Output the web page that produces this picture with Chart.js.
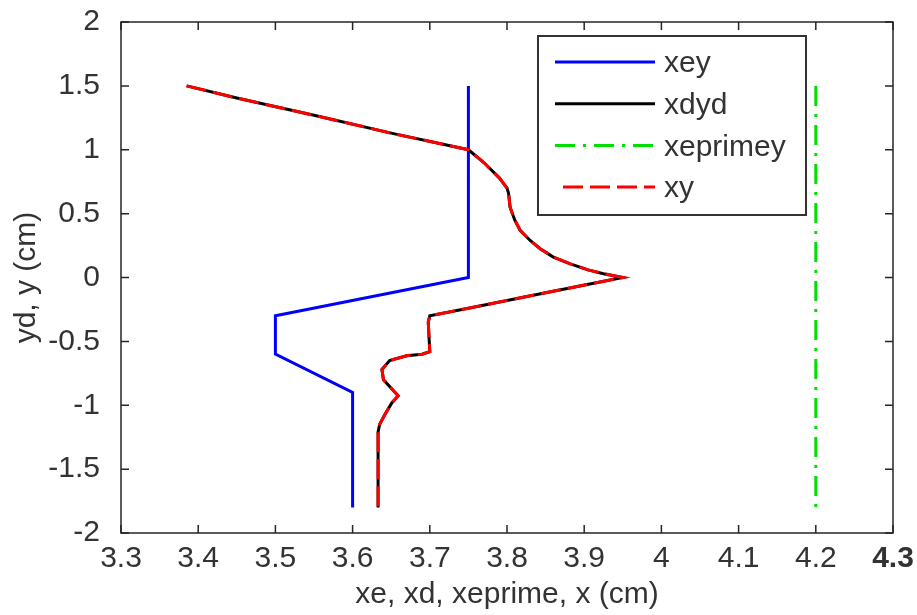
<!DOCTYPE html>
<html>
<head>
<meta charset="UTF-8">
<title>xe, xd, xeprime, x</title>
<script src="https://cdn.jsdelivr.net/npm/chart.js"></script>
<style>
    body { margin: 0; background: #fff; }
    #box { width: 917px; height: 615px; }
</style>
</head>
<body>
<div id="box"><canvas id="grafico"></canvas></div>
<script>
// valores
const xeX = [3.75, 3.75, 3.5, 3.5, 3.6, 3.6];
const xeY = [1.5, 0, -0.3, -0.6, -0.9, -1.8];

const xdX = [3.385, 3.45, 3.55, 3.65, 3.75, 3.77, 3.79, 3.8, 3.802, 3.804, 3.81, 3.817,
             3.83, 3.843, 3.86, 3.882, 3.905, 3.925, 3.95, 3.85, 3.75, 3.7, 3.698, 3.7,
             3.69, 3.67, 3.648, 3.638, 3.64, 3.659, 3.651, 3.642, 3.635, 3.633, 3.633, 3.633];
const xdY = [1.5, 1.405, 1.27, 1.13, 1.0, 0.9, 0.78, 0.7, 0.66, 0.55, 0.45, 0.37,
             0.29, 0.225, 0.16, 0.107, 0.06, 0.03, 0, -0.12, -0.24, -0.3, -0.35, -0.58,
             -0.6, -0.612, -0.65, -0.72, -0.8, -0.925, -0.98, -1.07, -1.15, -1.21, -1.5, -1.8];

const xpX = [4.2, 4.2];
const xpY = [1.5, -1.8];

const xTicks = [3.3, 3.4, 3.5, 3.6, 3.7, 3.8, 3.9, 4.0, 4.1, 4.2, 4.3];
const yTicks = [-2, -1.5, -1, -0.5, 0, 0.5, 1, 1.5, 2];

function pares(xs, ys) {
    return xs.map((x, i) => ({ x: x, y: ys[i] }));
}

const fonte = 'Liberation Sans, Arial, sans-serif';
const cinza = '#333';

// moldura com ticks para dentro (estilo matlab)
const moldura = {
    id: 'moldura',
    afterDatasetsDraw(chart) {
        const c = chart.ctx, a = chart.chartArea;
        const sx = chart.scales.x, sy = chart.scales.y;
        c.save();
        c.strokeStyle = '#262626';
        c.lineWidth = 1.5;
        c.strokeRect(a.left, a.top, a.right - a.left, a.bottom - a.top);
        c.beginPath();
        xTicks.forEach(v => {
            const px = sx.getPixelForValue(v);
            c.moveTo(px, a.bottom); c.lineTo(px, a.bottom - 8);
            c.moveTo(px, a.top); c.lineTo(px, a.top + 8);
        });
        yTicks.forEach(v => {
            const py = sy.getPixelForValue(v);
            c.moveTo(a.left, py); c.lineTo(a.left + 8, py);
            c.moveTo(a.right, py); c.lineTo(a.right - 8, py);
        });
        c.stroke();
        c.restore();
    }
};

// legenda dentro da area do grafico
const legenda = {
    id: 'legenda',
    afterDraw(chart) {
        const c = chart.ctx;
        const x0 = 538, y0 = 36, w = 268, h = 179;
        c.save();
        c.fillStyle = '#fff';
        c.fillRect(x0, y0, w, h);
        c.strokeStyle = cinza;
        c.lineWidth = 2;
        c.strokeRect(x0, y0, w, h);
        const ordem = ['xey', 'xdyd', 'xeprimey', 'xy'];
        ordem.forEach((nome, i) => {
            const ds = chart.data.datasets.find(d => d.label === nome);
            const yy = y0 + 26 + i * 41.7;
            c.beginPath();
            c.setLineDash(ds.borderDash || []);
            c.strokeStyle = ds.borderColor;
            c.lineWidth = 3;
            c.moveTo(nome === 'xy' ? 563 : 555, yy);
            c.lineTo(655, yy);
            c.stroke();
            c.setLineDash([]);
            c.fillStyle = cinza;
            c.font = '30px ' + fonte;
            c.textBaseline = 'middle';
            c.fillText(nome, 664, yy + 2);
        });
        c.restore();
    }
};

new Chart(document.getElementById('grafico'), {
    type: 'scatter',
    data: {
        datasets: [
            { label: 'xey', data: pares(xeX, xeY), borderColor: '#0000ff', order: 3 },
            { label: 'xdyd', data: pares(xdX, xdY), borderColor: '#000000', order: 2 },
            { label: 'xeprimey', data: pares(xpX, xpY), borderColor: '#00e000', borderDash: [20, 8, 3, 8], order: 4 },
            { label: 'xy', data: pares(xdX, xdY), borderColor: '#ff0000', borderDash: [20, 7], order: 1 }
        ]
    },
    plugins: [moldura, legenda],
    options: {
        responsive: true,
        maintainAspectRatio: false,
        animation: false,
        datasets: {
            scatter: { showLine: true, pointRadius: 0, borderWidth: 3, tension: 0, fill: false }
        },
        layout: { padding: { left: 9, right: 24, top: 22, bottom: 0 } },
        plugins: { legend: { display: false }, tooltip: { enabled: false } },
        scales: {
            x: {
                type: 'linear', min: 3.3, max: 4.3,
                afterBuildTicks: s => { s.ticks = xTicks.map(v => ({ value: v })); },
                afterFit: s => { s.height = 82; s.paddingLeft = 0; s.paddingRight = 0; },
                grid: { display: false },
                border: { display: false },
                ticks: {
                    color: cinza,
                    padding: 3,
                    maxRotation: 0,
                    autoSkip: false,
                    font: ctx => ({ family: fonte, size: 30, lineHeight: 1,
                        weight: ctx.tick && ctx.tick.value === 4.3 ? 'bold' : 'normal' }),
                    callback: v => String(Number(v.toFixed(1)))
                },
                title: {
                    display: true,
                    text: 'xe, xd, xeprime, x (cm)',
                    color: cinza,
                    font: { family: fonte, size: 30 },
                    padding: { top: 0, bottom: 2 }
                }
            },
            y: {
                type: 'linear', min: -2, max: 2,
                afterBuildTicks: s => { s.ticks = yTicks.map(v => ({ value: v })); },
                afterFit: s => { s.width = 112; s.paddingTop = 0; s.paddingBottom = 0; },
                grid: { display: false },
                border: { display: false },
                ticks: {
                    color: cinza,
                    padding: 13,
                    autoSkip: false,
                    font: { family: fonte, size: 30, lineHeight: 1 },
                    callback: v => String(v)
                },
                title: {
                    display: true,
                    text: 'yd, y (cm)',
                    color: cinza,
                    font: { family: fonte, size: 30 },
                    padding: { top: 0, bottom: 0 }
                }
            }
        }
    }
});
</script>
</body>
</html>
